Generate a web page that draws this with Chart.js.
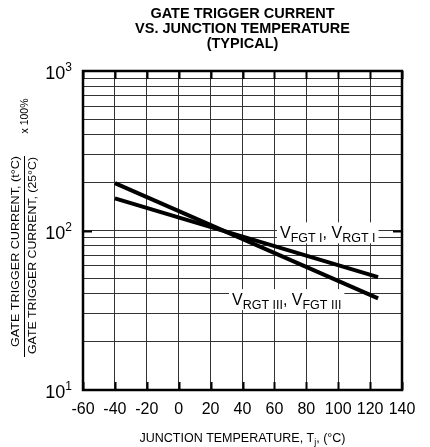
<!DOCTYPE html>
<html>
<head>
<meta charset="utf-8">
<script src="https://cdn.jsdelivr.net/npm/chart.js@4/dist/chart.umd.min.js"></script>
<style>
    body { margin: 0; background: #fff; }
    canvas { display: block; }
</style>
</head>
<body>
<canvas id="gateChart" width="430" height="447"></canvas>
<script>
// Data
const temps = [-40, 125];
const seriesI = [159, 51];      // VFGT I, VRGT I
const seriesIII = [198, 37.5];  // VRGT III, VFGT III
const xTicks = [-60, -40, -20, 0, 20, 40, 60, 80, 100, 120, 140];
const yDecades = [10, 100, 1000];
const yGrid = [10, 20, 30, 40, 50, 60, 70, 80, 90, 100, 200, 300, 400, 500, 600, 700, 800, 900, 1000];

const FONT = '"Liberation Sans", Arial, Helvetica, sans-serif';

// Draw text made of [text, size, dy] parts starting at x
function drawParts(ctx, parts, x, y) {
    parts.forEach(p => {
        ctx.font = p[1] + 'px ' + FONT;
        ctx.fillText(p[0], x, y + (p[2] || 0));
        x += ctx.measureText(p[0]).width;
    });
    return x;
}

function partsWidth(ctx, parts) {
    let w = 0;
    parts.forEach(p => {
        ctx.font = p[1] + 'px ' + FONT;
        w += ctx.measureText(p[0]).width;
    });
    return w;
}

// rotated text stretched along its length to a given span
function drawRotated(ctx, text, size, cx, cy, span) {
    ctx.save();
    ctx.translate(cx, cy);
    ctx.rotate(-Math.PI / 2);
    ctx.font = size + 'px ' + FONT;
    const w = ctx.measureText(text).width;
    ctx.scale(span ? span / w : 1, 1);
    ctx.textAlign = 'center';
    ctx.textBaseline = 'middle';
    ctx.fillText(text, 0, 0);
    ctx.restore();
}

// Labels, titles and frame drawn around the library's scales
const decorPlugin = {
    id: 'decor',
    beforeDatasetsDraw(chart) {
        const ctx = chart.ctx;
        const x = chart.scales.x, y = chart.scales.y;
        ctx.save();
        ctx.textBaseline = 'alphabetic';
        ctx.textAlign = 'left';

        // in-plot curve labels with white boxes
        const labels = [
            { t: 63.5, v: 96, parts: [['V', 16], ['FGT I', 12.5, 4], [', ', 16], ['V', 16], ['RGT I', 12.5, 4]] },
            { t: 33.4, v: 36.6, parts: [['V', 16], ['RGT III', 12.5, 4], [', ', 16], ['V', 16], ['FGT III', 12.5, 4]] }
        ];
        labels.forEach(l => {
            const px = x.getPixelForValue(l.t);
            const py = y.getPixelForValue(l.v);
            const w = partsWidth(ctx, l.parts);
            ctx.fillStyle = '#fff';
            ctx.fillRect(px - 3, py - 11, w + 6, 21);
            ctx.fillStyle = '#000';
            drawParts(ctx, l.parts, px, py + 5);
        });
        ctx.restore();
    },
    afterDraw(chart) {
        const ctx = chart.ctx;
        const a = chart.chartArea;
        const x = chart.scales.x, y = chart.scales.y;
        ctx.save();
        ctx.fillStyle = '#000';
        ctx.strokeStyle = '#000';

        // frame
        ctx.lineWidth = 2.5;
        ctx.strokeRect(a.left, a.top, a.right - a.left, a.bottom - a.top);

        // heavier inward tick marks
        ctx.lineWidth = 2;
        xTicks.forEach(t => {
            const px = Math.round(x.getPixelForValue(t)) + 0.5;
            ctx.beginPath();
            ctx.moveTo(px, a.top); ctx.lineTo(px, a.top + 8);
            ctx.moveTo(px, a.bottom); ctx.lineTo(px, a.bottom - 8);
            ctx.stroke();
        });
        const p100 = Math.round(y.getPixelForValue(100)) + 0.5;
        ctx.beginPath();
        ctx.moveTo(a.left, p100); ctx.lineTo(a.left + 9, p100);
        ctx.moveTo(a.right, p100); ctx.lineTo(a.right - 9, p100);
        ctx.stroke();

        // x tick labels
        ctx.font = '16px ' + FONT;
        ctx.textAlign = 'center';
        ctx.textBaseline = 'middle';
        xTicks.forEach(t => ctx.fillText(String(t), x.getPixelForValue(t), a.bottom + 20));

        // y tick labels 10^n
        ctx.textAlign = 'left';
        ctx.textBaseline = 'alphabetic';
        yDecades.forEach(v => {
            const py = y.getPixelForValue(v);
            const exp = String(Math.round(Math.log10(v)));
            const parts = [['10', 18], [exp, 12, -8]];
            const w = partsWidth(ctx, parts);
            drawParts(ctx, parts, a.left - 11 - w, py + 8);
        });

        // chart title
        const cx = (a.left + a.right) / 2;
        ctx.textAlign = 'center';
        ctx.textBaseline = 'middle';
        ctx.font = 'bold 14.5px ' + FONT;
        ['GATE TRIGGER CURRENT', 'VS. JUNCTION TEMPERATURE', '(TYPICAL)'].forEach((s, i) => {
            ctx.fillText(s, cx, 14 + i * 15);
        });

        // x axis title with subscript j
        ctx.textAlign = 'left';
        ctx.textBaseline = 'alphabetic';
        const xt = [['JUNCTION TEMPERATURE, T', 12.5], ['j', 9, 3], [', (°C)', 12.5]];
        const xtw = partsWidth(ctx, xt);
        drawParts(ctx, xt, cx - xtw / 2, 442);

        // y axis title as a fraction, rotated
        drawRotated(ctx, 'GATE TRIGGER CURRENT, (t°C)', 11, 15.5, 251.5, 191);
        drawRotated(ctx, 'GATE TRIGGER CURRENT, (25°C)', 11, 32.5, 255.5, 197);
        drawRotated(ctx, 'x 100%', 10.5, 25.5, 116, 0);
        ctx.lineWidth = 1;
        ctx.beginPath();
        ctx.moveTo(24.5, 156); ctx.lineTo(24.5, 357);
        ctx.stroke();

        ctx.restore();
    }
};

const ctx = document.getElementById('gateChart').getContext('2d');

new Chart(ctx, {
    type: 'line',
    data: {
        datasets: [
            {
                label: 'VFGT I, VRGT I',
                data: temps.map((t, i) => ({ x: t, y: seriesI[i] })),
                borderColor: '#000',
                borderWidth: 4,
                pointRadius: 0
            },
            {
                label: 'VRGT III, VFGT III',
                data: temps.map((t, i) => ({ x: t, y: seriesIII[i] })),
                borderColor: '#000',
                borderWidth: 4,
                pointRadius: 0
            }
        ]
    },
    options: {
        responsive: false,
        animation: false,
        layout: {
            padding: { left: 83, right: 28, top: 71, bottom: 57 }
        },
        plugins: {
            legend: { display: false },
            title: { display: false },
            tooltip: { enabled: false }
        },
        scales: {
            x: {
                type: 'linear',
                min: -60,
                max: 140,
                afterBuildTicks: scale => { scale.ticks = xTicks.map(v => ({ value: v })); },
                ticks: { display: false },
                grid: { color: '#333', lineWidth: 1, drawTicks: false },
                border: { display: false }
            },
            y: {
                type: 'logarithmic',
                min: 10,
                max: 1000,
                afterBuildTicks: scale => { scale.ticks = yGrid.map(v => ({ value: v })); },
                ticks: { display: false },
                grid: { color: '#333', lineWidth: 1, drawTicks: false },
                border: { display: false }
            }
        }
    },
    plugins: [decorPlugin]
});
</script>
</body>
</html>
